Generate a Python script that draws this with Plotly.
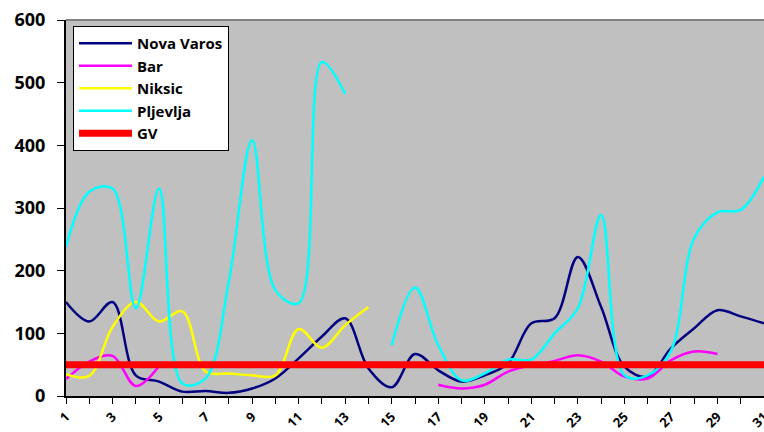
import plotly.graph_objects as go

days = list(range(1, 32))

nova_varos = [150, 119, 150, 33, 23, 7, 8, 5, 12, 28, 60, 95, 124, 44, 14, 67, 41, 23, 33, 52,
              116, 124, 222, 142, 47, 31, 76, 108, 137, 127, 116]
bar = [27, 55, 64, 16, 48, None, None, None, None, None, None, None, None, None, None, None,
       18, 12, 18, 39, 49, 56, 65, 55, 31, 28, 57, 71, 67, None, None]
niksic = [35, 32, 110, 150, 119, 135, 39, 36, 33, 33, 107, 77, 113, 142, None, None, None, None,
          None, None, None, None, None, None, None, None, None, None, None, None, None]
pljevlja = [238, 326, 331, 140, 331, 20, 28, 183, 408, 169, 148, 533, 482, None, 81, 173, 81,
            25, 36, 58, 58, 100, 140, 289, 33, 33, 72, 252, 293, 297, 350]
gv = [50] * 31

series = [
    ("Nova Varos", nova_varos, "#000080", 2.5),
    ("Bar", bar, "#FF00FF", 2.5),
    ("Niksic", niksic, "#FFFF00", 2.5),
    ("Pljevlja", pljevlja, "#00FFFF", 2.5),
    ("GV", gv, "#FF0000", 7),
]

fig = go.Figure()
for name, vals, color, w in series:
    fig.add_trace(go.Scatter(
        x=days, y=vals, name=name, mode="lines",
        line=dict(color=color, width=w, shape="spline", smoothing=1.0),
        connectgaps=False,
    ))

ytick_font = dict(family="Open Sans", size=18, color="black", weight="bold")
xtick_font = dict(family="Open Sans", size=13, color="black", weight="bold")

fig.update_layout(
    width=764, height=432,
    margin=dict(l=66, r=0, t=20, b=36),
    paper_bgcolor="white",
    plot_bgcolor="#C0C0C0",
    font=dict(family="Open Sans", size=15, color="black", weight="bold"),
    showlegend=True,
    legend=dict(
        x=0.01, y=0.984, xanchor="left", yanchor="top",
        bgcolor="white", bordercolor="black", borderwidth=1,
        font=dict(family="Open Sans", size=15, color="black", weight="bold"),
        itemwidth=53, tracegroupgap=0,
    ),
    xaxis=dict(
        range=[1, 31], tickmode="array", tickvals=days,
        ticktext=[str(d) if d % 2 == 1 else "" for d in days],
        tickangle=-45, ticks="outside", ticklen=6, tickcolor="black",
        showline=True, linecolor="black", linewidth=2,
        showgrid=False, zeroline=False, automargin=False,
        tickfont=xtick_font, ticklabelstandoff=0, ticklabeloverflow="allow",
    ),
    yaxis=dict(
        range=[0, 600], tickvals=[0, 100, 200, 300, 400, 500, 600],
        ticks="outside", ticklen=7, tickcolor="black",
        showline=True, linecolor="black", linewidth=2,
        showgrid=False, zeroline=False, automargin=False,
        tickfont=ytick_font, ticklabelstandoff=8,
    ),
    shapes=[dict(type="line", xref="paper", yref="paper", x0=0, x1=1, y0=1, y1=1,
                 line=dict(color="#808080", width=2))],
)

fig.write_html("out.html", config={"displayModeBar": False},
               post_script="document.body.style.margin='0';")
